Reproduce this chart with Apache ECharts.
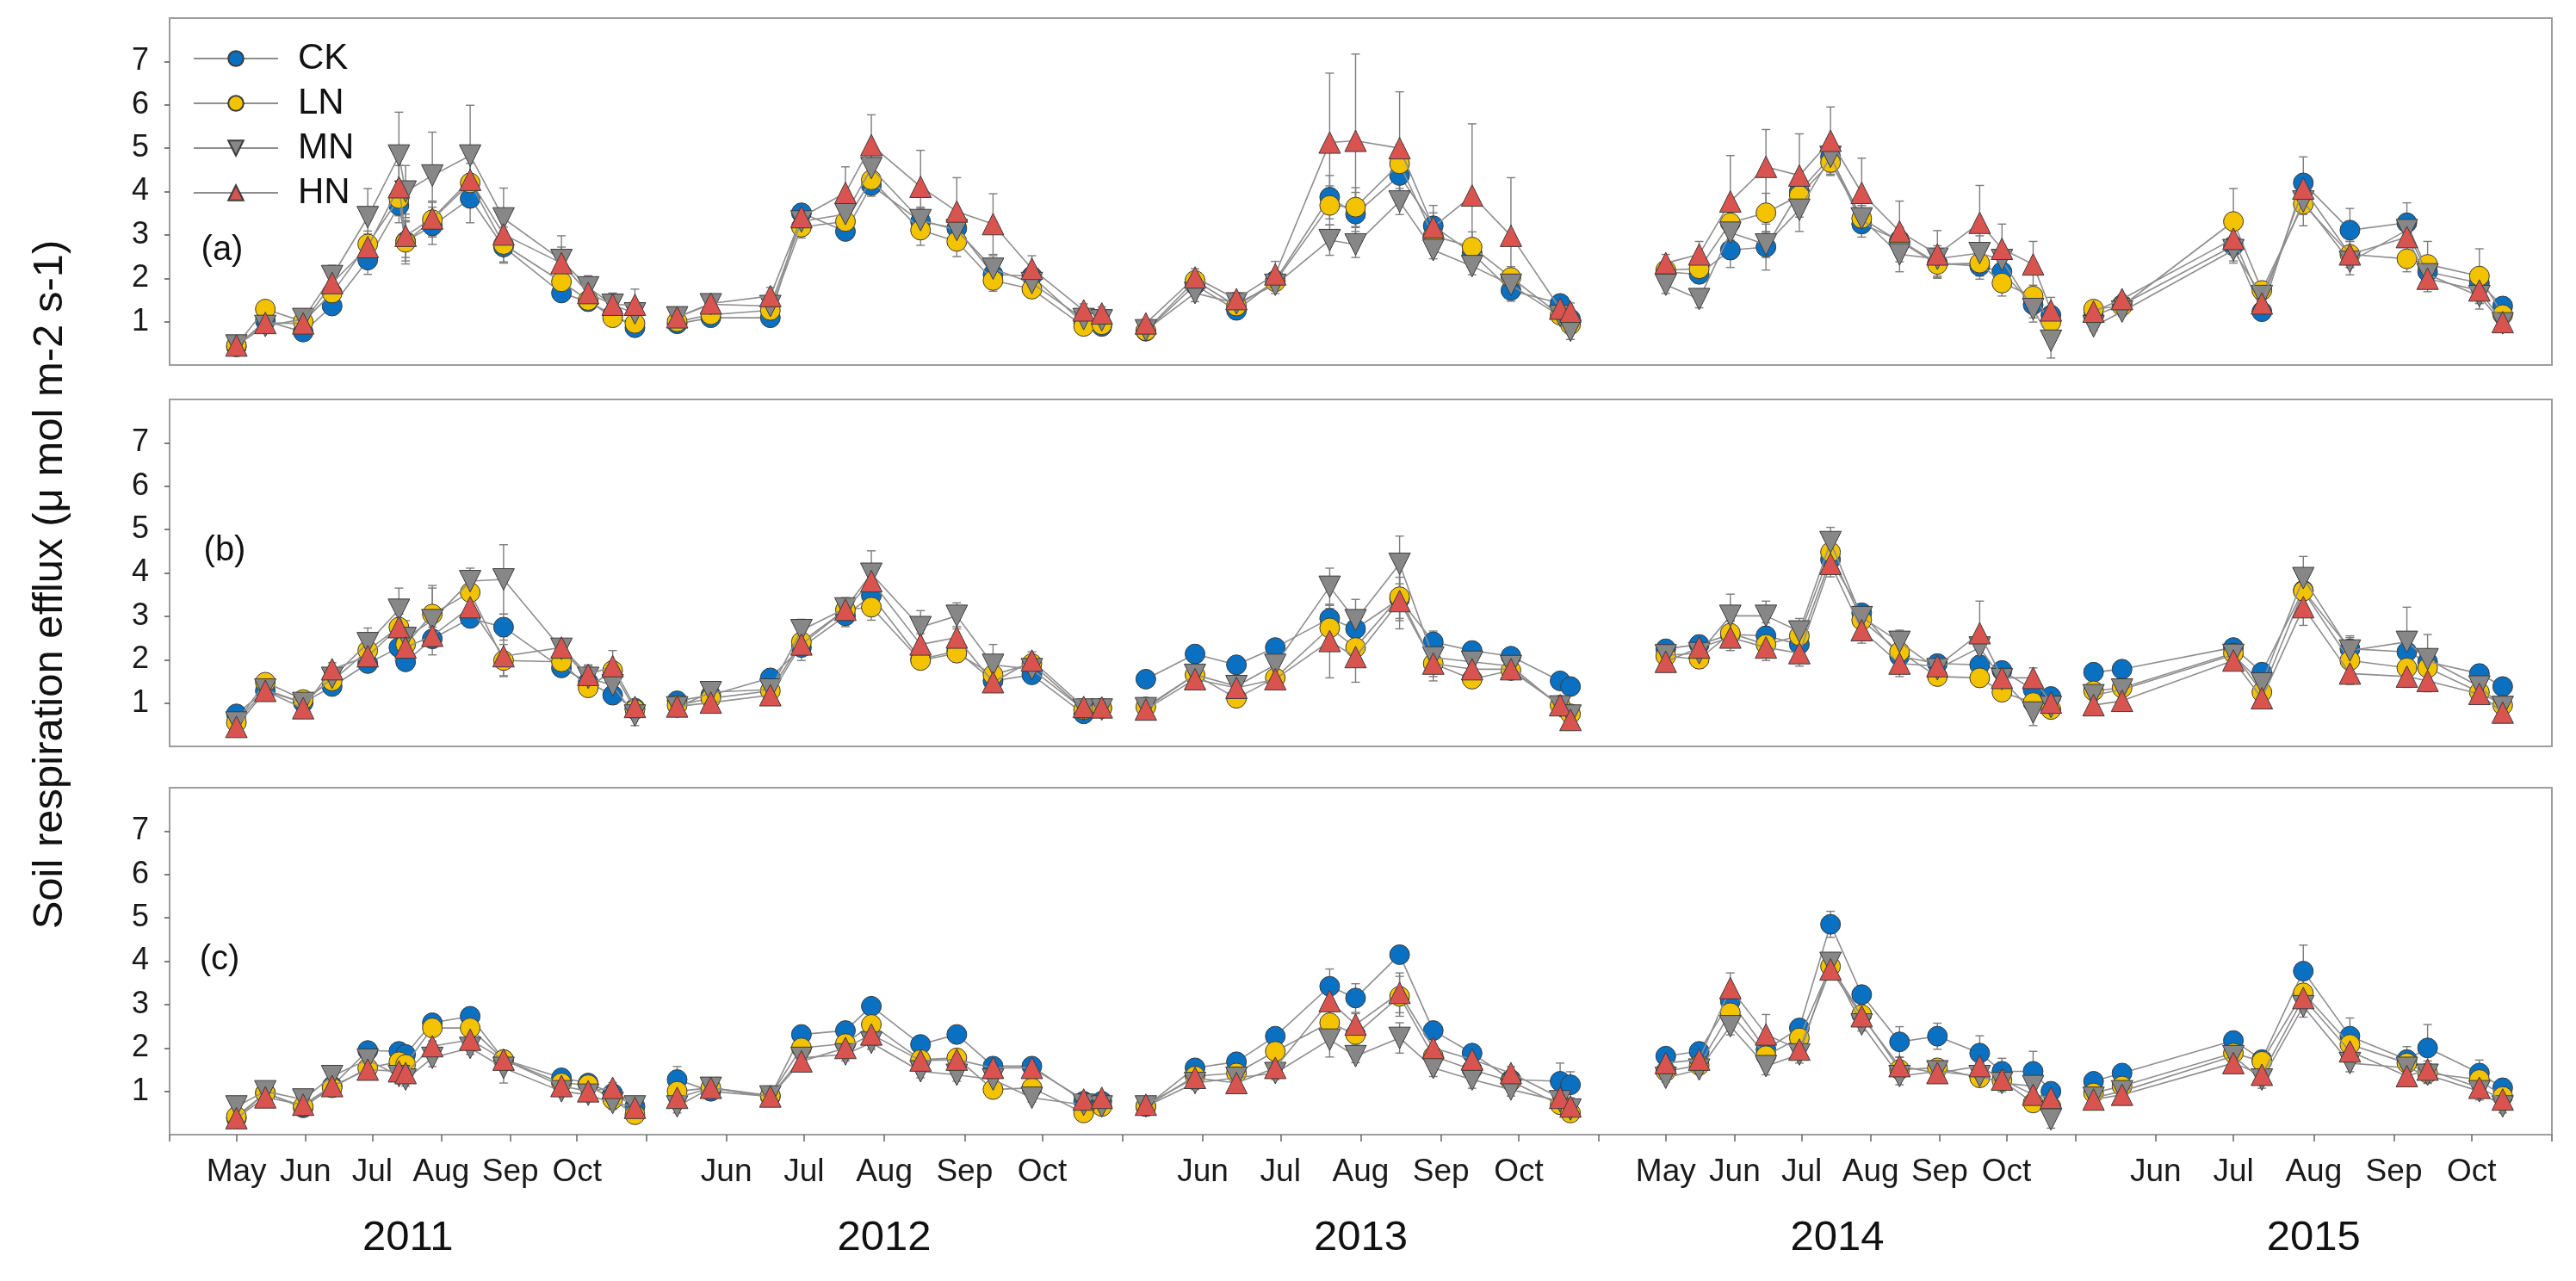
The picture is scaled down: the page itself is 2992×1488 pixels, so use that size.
<!DOCTYPE html>
<html>
<head>
<meta charset="utf-8">
<script src="https://cdn.jsdelivr.net/npm/echarts@6/dist/echarts.min.js"></script>
<style>
html,body{margin:0;padding:0;background:#ffffff;}
#chart{width:2992px;height:1488px;}
</style>
</head>
<body>
<div id="chart"></div>
<script>
// ---------------- DATA ----------------
const treatments = ['CK', 'LN', 'MN', 'HN'];
const yearLabels = ['2011', '2012', '2013', '2014', '2015'];
const segmentStarts = ['2011-04-01', '2012-05-01', '2013-05-01', '2014-04-01', '2015-05-01'];
const segmentEnds = ['2011-11-01', '2012-11-01', '2013-11-01', '2014-11-01', '2015-11-01'];
const monthNames = ['Jan','Feb','Mar','Apr','May','Jun','Jul','Aug','Sep','Oct','Nov','Dec'];
const yTickValues = [1, 2, 3, 4, 5, 6, 7];
const panelLabels = ['(a)', '(b)', '(c)'];
const yTitle = 'Soil respiration efflux (μ mol m-2 s-1)';

const sampleDates = [
  '2011-05-01','2011-05-14','2011-05-31','2011-06-13','2011-06-29','2011-07-13','2011-07-16','2011-07-28','2011-08-14','2011-08-29','2011-09-24','2011-10-06','2011-10-17','2011-10-27',
  '2012-05-13','2012-05-26','2012-06-18','2012-06-30','2012-07-17','2012-07-27','2012-08-15','2012-08-29','2012-09-12','2012-09-27','2012-10-17','2012-10-24',
  '2013-05-10','2013-05-29','2013-06-14','2013-06-29','2013-07-20','2013-07-30','2013-08-16','2013-08-29','2013-09-13','2013-09-28','2013-10-17','2013-10-21',
  '2014-05-01','2014-05-16','2014-05-30','2014-06-15','2014-06-30','2014-07-14','2014-07-28','2014-08-14','2014-08-31','2014-09-19','2014-09-29','2014-10-13','2014-10-21',
  '2015-05-08','2015-05-19','2015-07-01','2015-07-12','2015-07-28','2015-08-15','2015-09-06','2015-09-14','2015-10-04','2015-10-13'
];

// Panel (a)
const ckA = [0.42,1.02,0.76,1.36,2.42,3.68,2.85,3.21,3.84,2.72,1.66,1.46,1.16,0.86,
  0.95,1.09,1.09,3.51,3.08,4.14,3.31,3.15,2.09,2.05,0.96,0.89,
  0.78,1.85,1.26,1.95,3.87,3.48,4.37,3.21,2.58,1.72,1.42,1.06,
  2.15,2.09,2.65,2.72,4.00,4.80,3.25,2.88,2.35,2.28,2.15,1.39,1.15,
  1.13,1.39,2.75,1.23,4.20,3.11,3.28,2.15,1.89,1.36];
const lnA = [0.45,1.29,1.00,1.66,2.79,3.84,2.83,3.35,4.20,2.78,1.92,1.49,1.09,0.96,
  1.00,1.16,1.26,3.18,3.31,4.27,3.11,2.85,1.95,1.75,0.89,0.93,
  0.79,1.95,1.36,1.92,3.68,3.64,4.64,2.98,2.72,2.02,1.15,0.93,
  2.19,2.22,3.28,3.51,3.91,4.67,3.38,2.85,2.32,2.35,1.89,1.59,0.99,
  1.29,1.36,3.31,1.72,3.71,2.55,2.45,2.32,2.05,1.16];
const mnA = [0.45,0.90,1.06,2.05,3.41,4.83,4.00,4.37,4.83,3.38,2.42,1.79,1.39,1.19,
  1.10,1.40,1.36,3.31,3.48,4.54,3.34,3.11,2.22,1.89,1.06,1.03,
  0.80,1.66,1.42,1.85,2.88,2.78,3.77,2.65,2.28,1.85,1.13,0.79,
  1.85,1.52,3.05,2.78,3.58,4.80,3.38,2.55,2.45,2.58,2.42,1.29,0.56,
  0.89,1.23,2.65,1.59,3.77,2.38,3.11,2.09,1.59,0.96];
const hnA = [0.45,0.97,0.96,1.89,2.72,4.10,2.98,3.38,4.27,3.01,2.35,1.66,1.39,1.39,
  1.10,1.42,1.59,3.41,3.97,5.07,4.11,3.54,3.25,2.22,1.26,1.19,
  0.96,2.02,1.52,2.09,5.13,5.17,5.00,3.18,3.91,2.98,1.30,1.23,
  2.35,2.55,3.77,4.57,4.37,5.17,3.97,3.08,2.55,3.28,2.68,2.32,1.26,
  1.23,1.52,2.91,1.42,4.07,2.55,2.95,1.99,1.72,0.99];
const ckAErr = [0.08,0.12,0.10,0.15,0.33,0.40,0.45,0.43,0.56,0.37,0.15,0.12,0.10,0.10,
  0.10,0.10,0.10,0.20,0.20,0.25,0.30,0.30,0.20,0.20,0.10,0.10,
  0.08,0.20,0.15,0.20,0.50,0.50,0.50,0.30,0.30,0.25,0.15,0.10,
  0.20,0.20,0.40,0.53,0.40,0.35,0.30,0.30,0.30,0.30,0.30,0.30,0.20,
  0.10,0.15,0.35,0.20,0.60,0.50,0.46,0.30,0.30,0.20];
const lnAErr = [0.08,0.15,0.10,0.20,0.30,0.40,0.50,0.40,0.45,0.40,0.20,0.15,0.12,0.10,
  0.10,0.10,0.10,0.25,0.25,0.30,0.35,0.35,0.25,0.20,0.10,0.10,
  0.08,0.20,0.15,0.20,0.45,0.45,0.45,0.30,0.35,0.25,0.15,0.10,
  0.20,0.25,0.40,0.45,0.40,0.30,0.30,0.30,0.30,0.30,0.30,0.25,0.20,
  0.10,0.10,0.76,0.20,0.50,0.30,0.30,0.53,0.63,0.20];
const mnAErr = [0.08,0.15,0.12,0.25,0.66,1.00,0.60,1.00,1.16,0.70,0.30,0.25,0.20,0.25,
  0.10,0.10,0.10,0.30,0.30,0.40,0.30,0.35,0.30,0.25,0.10,0.10,
  0.10,0.20,0.15,0.20,0.35,0.30,0.30,0.20,0.20,0.20,0.15,0.20,
  0.20,0.20,0.30,0.30,0.50,0.40,0.30,0.40,0.30,0.40,0.30,0.30,0.40,
  0.10,0.10,0.30,0.20,0.30,0.30,0.30,0.30,0.30,0.15];
const hnAErr = [0.08,0.10,0.15,0.20,0.30,0.50,0.50,0.40,0.50,0.40,0.63,0.40,0.27,0.36,
  0.10,0.10,0.20,0.30,0.60,0.70,0.84,0.78,0.70,0.30,0.15,0.15,
  0.10,0.20,0.15,0.30,1.60,2.00,1.30,0.50,1.65,1.34,0.30,0.20,
  0.20,0.30,1.06,0.86,0.96,0.78,0.80,0.70,0.55,0.86,0.57,0.53,0.30,
  0.10,0.10,0.30,0.20,0.30,0.30,0.40,0.30,0.30,0.15];

// Panel (b)
const ckB = [0.75,1.28,1.01,1.38,1.91,2.28,1.95,2.48,2.95,2.75,1.81,1.48,1.18,0.88,
  1.05,1.18,1.58,2.28,3.01,3.48,2.01,2.20,1.51,1.65,0.75,0.88,
  1.55,2.13,1.88,2.28,2.95,2.71,3.40,2.41,2.21,2.08,1.51,1.38,
  2.25,2.35,2.58,2.55,2.35,4.31,3.08,2.08,1.91,1.88,1.75,1.31,1.15,
  1.71,1.78,2.28,1.71,3.60,2.25,2.18,1.95,1.68,1.38];
const lnB = [0.55,1.48,1.08,1.51,2.21,2.75,2.35,3.05,3.55,1.98,1.95,1.35,1.75,0.85,
  0.95,1.11,1.28,2.41,3.15,3.21,1.98,2.15,1.65,1.91,0.85,0.88,
  0.91,1.65,1.11,1.58,2.73,2.28,3.45,1.91,1.55,1.75,0.95,0.75,
  2.08,2.01,2.61,2.35,2.55,4.48,2.91,2.18,1.61,1.58,1.25,1.01,0.85,
  1.28,1.35,2.15,1.25,3.58,1.98,1.81,1.81,1.25,0.95];
const mnB = [0.55,1.31,1.00,1.58,2.38,3.15,2.50,2.91,3.81,3.85,2.25,1.58,1.41,0.71,
  0.90,1.25,1.31,2.68,3.18,3.98,2.75,3.01,1.88,1.78,0.85,0.85,
  0.88,1.65,1.39,1.88,3.68,2.91,4.21,2.05,1.95,1.85,0.92,0.71,
  2.10,2.15,3.01,3.01,2.65,4.71,2.98,2.41,1.78,2.28,1.55,0.78,0.91,
  1.18,1.31,2.11,1.45,3.88,2.21,2.41,2.01,1.38,0.91];
const hnB = [0.45,1.28,0.88,1.78,2.08,2.75,2.28,2.55,3.21,2.08,2.28,1.65,1.85,0.91,
  0.92,1.01,1.18,2.35,3.15,3.81,2.35,2.51,1.48,1.98,0.91,0.90,
  0.85,1.55,1.35,1.55,2.43,2.06,3.35,1.91,1.78,1.78,0.95,0.61,
  1.95,2.28,2.51,2.28,2.15,4.21,2.68,1.91,1.85,2.61,1.58,1.58,1.01,
  0.95,1.05,1.98,1.11,3.21,1.68,1.61,1.51,1.21,0.78];
const ckBErr = [0.10,0.10,0.08,0.10,0.15,0.30,0.20,0.15,0.15,0.30,0.20,0.15,0.20,0.10,
  0.10,0.10,0.15,0.30,0.25,0.30,0.20,0.20,0.20,0.15,0.10,0.10,
  0.10,0.15,0.10,0.15,0.30,0.30,0.50,0.25,0.20,0.15,0.15,0.15,
  0.20,0.20,0.30,0.30,0.30,0.30,0.20,0.30,0.20,0.20,0.20,0.20,0.15,
  0.10,0.10,0.20,0.20,0.40,0.30,0.40,0.30,0.20,0.10];
const lnBErr = [0.08,0.12,0.08,0.12,0.20,0.30,0.30,0.60,0.30,0.37,0.20,0.15,0.20,0.10,
  0.10,0.10,0.10,0.30,0.20,0.30,0.20,0.20,0.20,0.15,0.10,0.10,
  0.10,0.20,0.10,0.20,0.45,0.30,0.74,0.40,0.20,0.20,0.10,0.10,
  0.20,0.20,0.30,0.30,0.30,0.30,0.20,0.30,0.20,0.20,0.20,0.20,0.15,
  0.10,0.10,0.20,0.20,0.50,0.30,0.30,0.30,0.20,0.10];
const mnBErr = [0.10,0.10,0.10,0.15,0.35,0.50,0.40,0.80,0.30,0.80,0.20,0.30,0.20,0.23,
  0.10,0.12,0.10,0.25,0.25,0.53,0.38,0.30,0.47,0.20,0.10,0.10,
  0.10,0.15,0.15,0.20,0.43,0.48,0.64,0.30,0.20,0.20,0.15,0.15,
  0.20,0.20,0.50,0.34,0.30,0.34,0.20,0.27,0.20,0.30,0.30,0.30,0.15,
  0.10,0.10,0.20,0.20,0.50,0.30,0.80,0.57,0.20,0.10];
const hnBErr = [0.10,0.10,0.10,0.15,0.20,0.30,0.30,0.20,0.25,0.45,0.15,0.20,0.36,0.15,
  0.10,0.10,0.10,0.25,0.20,0.30,0.25,0.25,0.20,0.20,0.10,0.10,
  0.10,0.15,0.15,0.20,0.85,0.58,0.40,0.30,0.20,0.20,0.10,0.10,
  0.20,0.20,0.30,0.30,0.30,0.30,0.30,0.30,0.20,0.74,0.30,0.23,0.20,
  0.10,0.10,0.20,0.20,0.42,0.25,0.25,0.25,0.20,0.10];

// Panel (c)
const ckC = [0.38,0.96,0.62,1.12,1.94,1.92,1.85,2.58,2.73,1.73,1.31,1.19,0.95,0.65,
  1.27,1.00,0.88,2.31,2.40,2.96,2.08,2.31,1.58,1.58,0.77,0.77,
  0.65,1.54,1.68,2.27,3.42,3.15,4.15,2.40,1.88,1.27,1.23,1.15,
  1.81,1.92,3.08,1.96,2.46,4.85,3.23,2.14,2.27,1.88,1.46,1.46,1.00,
  1.23,1.42,2.17,1.73,3.77,2.27,1.73,2.00,1.42,1.08];
const lnC = [0.42,0.96,0.65,1.08,1.54,1.68,1.62,2.46,2.46,1.73,1.19,1.15,0.81,0.46,
  1.00,1.08,0.90,2.00,2.10,2.54,1.73,1.77,1.04,1.08,0.50,0.65,
  0.65,1.35,1.42,1.92,2.58,2.31,3.19,1.81,1.50,1.23,0.69,0.50,
  1.46,1.60,2.81,1.82,2.23,3.88,2.77,1.50,1.54,1.31,1.25,0.73,0.65,
  0.96,1.12,1.88,1.69,3.27,2.08,1.65,1.42,1.27,0.88];
const mnC = [0.65,1.00,0.81,1.35,1.73,1.35,1.27,1.77,2.00,1.54,1.00,0.92,0.73,0.65,
  0.65,1.08,0.88,1.77,1.85,2.12,1.46,1.38,1.27,0.85,0.69,0.65,
  0.65,1.19,1.31,1.42,2.19,1.81,2.23,1.54,1.27,1.04,0.77,0.58,
  1.31,1.50,2.50,1.58,1.85,3.96,2.54,1.35,1.46,1.35,1.19,1.12,0.35,
  0.85,1.00,1.81,1.27,2.96,1.65,1.54,1.38,1.00,0.65];
const hnC = [0.38,0.86,0.69,1.12,1.50,1.46,1.42,2.04,2.19,1.73,1.12,1.00,1.08,0.62,
  0.85,1.08,0.88,1.69,2.00,2.31,1.71,1.73,1.54,1.54,0.81,0.85,
  0.69,1.31,1.19,1.54,3.08,2.54,3.27,2.00,1.73,1.42,0.85,0.65,
  1.65,1.73,3.38,2.31,1.96,3.81,2.73,1.58,1.42,1.58,1.27,0.92,0.85,
  0.81,0.92,1.65,1.38,3.15,1.92,1.35,1.50,1.08,0.81];
const ckCErr = [0.08,0.08,0.08,0.10,0.10,0.15,0.15,0.12,0.12,0.10,0.10,0.10,0.10,0.08,
  0.30,0.10,0.10,0.20,0.15,0.15,0.15,0.10,0.10,0.15,0.10,0.10,
  0.10,0.10,0.10,0.20,0.40,0.33,0.15,0.20,0.15,0.15,0.42,0.30,
  0.10,0.10,0.30,0.30,0.20,0.30,0.15,0.35,0.30,0.40,0.30,0.46,0.20,
  0.10,0.10,0.20,0.20,0.60,0.42,0.30,0.54,0.30,0.20];
const lnCErr = [0.08,0.08,0.08,0.10,0.10,0.15,0.15,0.12,0.12,0.10,0.10,0.10,0.10,0.08,
  0.15,0.10,0.10,0.15,0.15,0.15,0.15,0.10,0.10,0.10,0.10,0.10,
  0.10,0.10,0.10,0.15,0.30,0.25,0.46,0.20,0.15,0.15,0.20,0.15,
  0.10,0.10,0.30,0.20,0.20,0.20,0.15,0.20,0.20,0.20,0.20,0.20,0.15,
  0.10,0.10,0.20,0.20,0.30,0.20,0.20,0.20,0.20,0.15];
const mnCErr = [0.10,0.10,0.10,0.23,0.15,0.15,0.15,0.20,0.15,0.35,0.10,0.10,0.15,0.10,
  0.15,0.10,0.10,0.15,0.15,0.15,0.15,0.15,0.10,0.10,0.10,0.10,
  0.10,0.15,0.10,0.15,0.40,0.15,0.35,0.20,0.20,0.15,0.15,0.15,
  0.10,0.10,0.20,0.20,0.20,0.20,0.15,0.20,0.20,0.20,0.20,0.20,0.20,
  0.10,0.10,0.20,0.20,0.25,0.20,0.20,0.20,0.20,0.15];
const hnCErr = [0.08,0.08,0.08,0.10,0.10,0.15,0.15,0.12,0.12,0.10,0.10,0.10,0.12,0.08,
  0.15,0.10,0.10,0.15,0.15,0.15,0.15,0.10,0.10,0.10,0.10,0.10,
  0.10,0.10,0.10,0.15,0.30,0.25,0.46,0.20,0.15,0.15,0.15,0.15,
  0.10,0.10,0.35,0.46,0.20,0.20,0.15,0.20,0.20,0.20,0.20,0.20,0.15,
  0.10,0.10,0.20,0.20,0.30,0.20,0.20,0.20,0.20,0.15];

const panelValues = [[ckA, lnA, mnA, hnA], [ckB, lnB, mnB, hnB], [ckC, lnC, mnC, hnC]];
const panelErrors = [[ckAErr, lnAErr, mnAErr, hnAErr], [ckBErr, lnBErr, mnBErr, hnBErr], [ckCErr, lnCErr, mnCErr, hnCErr]];

// ---------------- STYLE / LAYOUT ----------------
const FONT = "'Liberation Sans', Arial, sans-serif";
const PLOT_LEFT = 197, PLOT_RIGHT = 2964;
const PANEL_TOPS = [21, 464, 915];
const PANEL_H = 403;
const SEG_W = (PLOT_RIGHT - PLOT_LEFT) / 5;
const colors = { CK: '#0a70c2', LN: '#f3c300', MN: '#878787', HN: '#d9534f' };
const symbols = { CK: 'circle', LN: 'circle', MN: 'triangle', HN: 'triangle' };
const symbolRot = { CK: 0, LN: 0, MN: 180, HN: 0 };
const symbolSz = { CK: 23, LN: 23, MN: 25, HN: 25 };

const ts = s => Date.parse(s + 'T00:00:00Z');
function monthStarts(start, end) {
  const s = new Date(ts(start));
  let y = s.getUTCFullYear(), m = s.getUTCMonth();
  const e = ts(end), out = [];
  let t = Date.UTC(y, m, 1);
  while (t <= e) { out.push(t); m++; t = Date.UTC(y, m, 1); }
  return out;
}

const grid = [], xAxis = [], yAxis = [], series = [];

for (let p = 0; p < 3; p++) {
  const gFrame = grid.length;
  grid.push({ left: PLOT_LEFT, top: PANEL_TOPS[p], width: PLOT_RIGHT - PLOT_LEFT, height: PANEL_H,
    show: true, borderColor: '#9d9d9d', borderWidth: 2, backgroundColor: '#ffffff' });
  xAxis.push({ gridIndex: gFrame, type: 'value', min: 0, max: 1, show: false });
  yAxis.push({ gridIndex: gFrame, type: 'value', min: 0, max: 8,
    axisLine: { show: false }, splitLine: { show: false },
    axisTick: { show: true, inside: false, length: 6, customValues: yTickValues, lineStyle: { color: '#555', width: 1.5 } },
    axisLabel: { show: true, customValues: yTickValues, fontSize: 36, fontFamily: FONT, color: '#1a1a1a', margin: 24 } });

  for (let yi = 0; yi < 5; yi++) {
    const g = grid.length;
    grid.push({ left: PLOT_LEFT + yi * SEG_W, top: PANEL_TOPS[p], width: SEG_W, height: PANEL_H, show: false });
    const smin = ts(segmentStarts[yi]), smax = ts(segmentEnds[yi]);
    const ticks = monthStarts(segmentStarts[yi], segmentEnds[yi]);
    const labelTicks = ticks.filter(v => v > smin && v < smax);
    const isBottom = p === 2;
    xAxis.push({ gridIndex: g, type: 'value', min: smin, max: smax, show: isBottom,
      axisLine: { show: false }, splitLine: { show: false },
      axisTick: { show: true, inside: false, length: 8, customValues: ticks, lineStyle: { color: '#666', width: 1.5 } },
      axisLabel: { show: true, customValues: labelTicks, fontSize: 37, fontFamily: FONT, color: '#1a1a1a', margin: 25,
        formatter: v => monthNames[new Date(v).getUTCMonth()] },
      name: yearLabels[yi], nameLocation: 'middle', nameGap: 96,
      nameTextStyle: { fontSize: 49, fontFamily: FONT, color: '#111' } });
    yAxis.push({ gridIndex: g, type: 'value', min: 0, max: 8, show: false });

    const idx = [];
    sampleDates.forEach((d, i) => { if (d.slice(0, 4) === yearLabels[yi]) idx.push(i); });

    treatments.forEach((t, ti) => {
      const vals = panelValues[p][ti], errs = panelErrors[p][ti];
      series.push({
        type: 'custom', name: t + '-sd', xAxisIndex: g, yAxisIndex: g, z: 2, silent: true, clip: false,
        data: idx.map(i => [ts(sampleDates[i]), vals[i], errs[i]]),
        renderItem: function (params, api) {
          const x = api.value(0), y = api.value(1), e = api.value(2);
          const top = api.coord([x, y + e]), bot = api.coord([x, y - e]);
          const c = 5;
          const st = { stroke: '#7d7d7d', lineWidth: 1.4 };
          return { type: 'group', children: [
            { type: 'line', shape: { x1: top[0], y1: top[1], x2: bot[0], y2: bot[1] }, style: st },
            { type: 'line', shape: { x1: top[0] - c, y1: top[1], x2: top[0] + c, y2: top[1] }, style: st },
            { type: 'line', shape: { x1: bot[0] - c, y1: bot[1], x2: bot[0] + c, y2: bot[1] }, style: st }
          ] };
        }
      });
    });
    treatments.forEach((t, ti) => {
      const vals = panelValues[p][ti];
      series.push({
        type: 'line', name: t, xAxisIndex: g, yAxisIndex: g, z: 3 + ti, clip: false,
        data: idx.map(i => [ts(sampleDates[i]), vals[i]]),
        symbol: symbols[t], symbolSize: symbolSz[t], symbolRotate: symbolRot[t], showSymbol: true,
        lineStyle: { color: '#8e8e8e', width: 1.6 },
        itemStyle: { color: colors[t], borderColor: '#3c3c3c', borderWidth: 1 },
        emphasis: { disabled: true }
      });
    });
  }
}

const option = {
  backgroundColor: '#ffffff',
  animation: false,
  grid, xAxis, yAxis, series,
  legend: {
    data: treatments, orient: 'vertical', left: 219, top: 42,
    itemWidth: 98, itemHeight: 22, itemGap: 10,
    textStyle: { fontSize: 42, fontFamily: FONT, color: '#111', padding: [0, 0, 0, 18] },
    selectedMode: false
  },
  graphic: [
    { type: 'text', x: 58, y: 679, rotation: Math.PI / 2,
      style: { text: yTitle, font: '49px ' + FONT, fill: '#111', align: 'center', verticalAlign: 'middle' } },
    { type: 'text', x: 258, y: 291, style: { text: panelLabels[0], font: '40px ' + FONT, fill: '#111', align: 'center', verticalAlign: 'middle' } },
    { type: 'text', x: 261, y: 640, style: { text: panelLabels[1], font: '40px ' + FONT, fill: '#111', align: 'center', verticalAlign: 'middle' } },
    { type: 'text', x: 255, y: 1115, style: { text: panelLabels[2], font: '40px ' + FONT, fill: '#111', align: 'center', verticalAlign: 'middle' } }
  ]
};

const chart = echarts.init(document.getElementById('chart'), null, { renderer: 'canvas' });
chart.setOption(option);
</script>
</body>
</html>
